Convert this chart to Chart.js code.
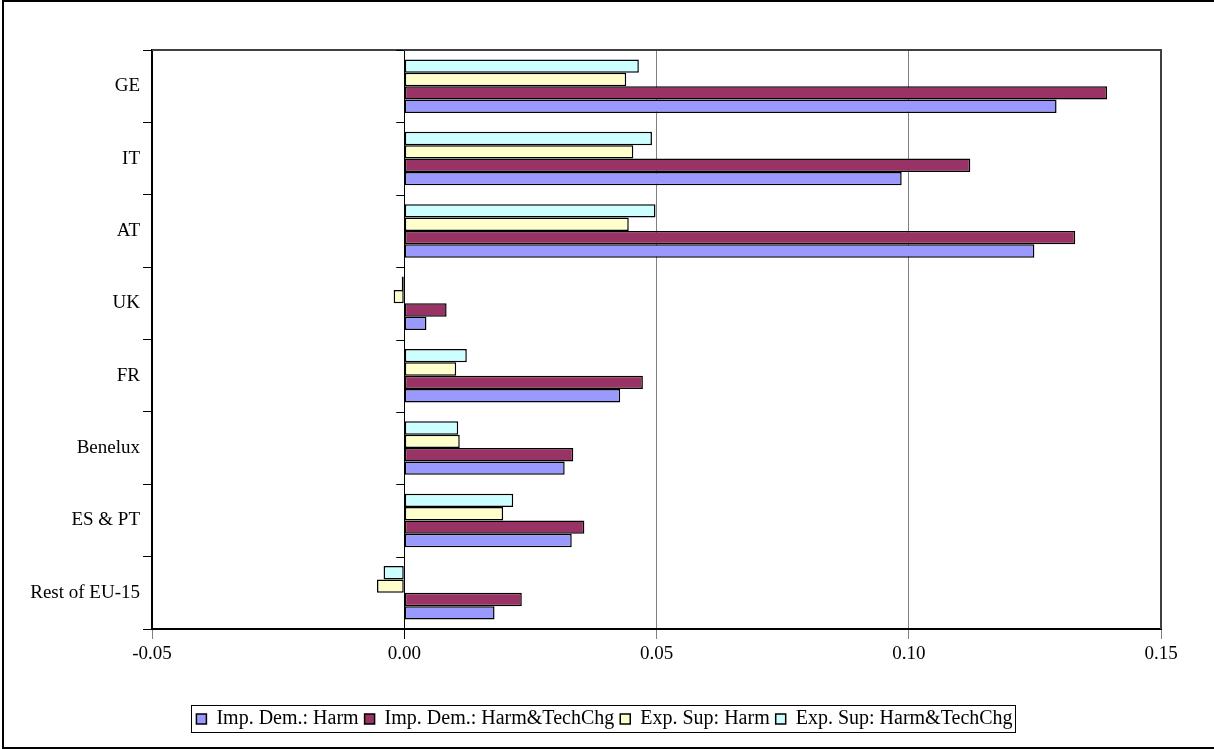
<!DOCTYPE html>
<html>
<head>
<meta charset="utf-8">
<script src="https://cdn.jsdelivr.net/npm/chart.js@4"></script>
<style>
  body { margin: 0; background: #fff; }
  #wrap { position: absolute; left: 0; top: 0; width: 1214px; height: 749px; }
  #frame { position: absolute; left: 2px; top: 0; width: 1230px; height: 749px; border: 2px solid #000; box-sizing: border-box; pointer-events: none; }
</style>
</head>
<body>
<div id="wrap"><canvas id="myChart" width="1214" height="749"></canvas></div>
<div id="frame"></div>
<script>
var regions = ["GE", "IT", "AT", "UK", "FR", "Benelux", "ES & PT", "Rest of EU-15"];

var impHarm = [0.1293, 0.0986, 0.1249, 0.0044, 0.0428, 0.0318, 0.0332, 0.0179];
var impHarmTech = [0.1393, 0.1122, 0.1330, 0.0084, 0.0473, 0.0335, 0.0357, 0.0233];
var expHarm = [0.0440, 0.0454, 0.0445, -0.0021, 0.0103, 0.0110, 0.0196, -0.0054];
var expHarmTech = [0.0465, 0.0491, 0.0498, -0.0005, 0.0124, 0.0107, 0.0216, -0.0041];

var xTicks = [-0.05, 0, 0.05, 0.10, 0.15];

var serif = "'Liberation Serif', 'Times New Roman', serif";
var legendShift = 24;

// frame around plot area, little ticks on the zero line, box round the legend
var extras = {
  id: "extras",
  afterLayout: function (chart) {
    // legend sits a bit right of the plot centre in the original
    var lg = chart.legend;
    lg.left += legendShift;
    lg.right += legendShift;
    (lg.legendHitBoxes || []).forEach(function (h) { h.left += legendShift; });
  },
  afterDraw: function (chart) {
    var c = chart.ctx, a = chart.chartArea;
    var x = chart.scales.x, y = chart.scales.y;
    c.save();
    c.strokeStyle = "#404040";
    c.lineWidth = 2;
    c.beginPath();
    c.moveTo(a.left, a.top);
    c.lineTo(a.right, a.top);
    c.lineTo(a.right, a.bottom);
    c.stroke();

    var x0 = x.getPixelForValue(0);
    var step = (y.bottom - y.top) / regions.length;
    c.strokeStyle = "#000";
    c.lineWidth = 1;
    c.beginPath();
    for (var i = 0; i <= regions.length; i++) {
      var yy = Math.round(y.top + i * step) + 0.5;
      c.moveTo(x0 - 8, yy);
      c.lineTo(x0, yy);
    }
    c.stroke();

    var boxes = chart.legend.legendHitBoxes;
    if (boxes && boxes.length) {
      var l = Infinity, r = -Infinity, t = Infinity, b = -Infinity;
      boxes.forEach(function (h) {
        l = Math.min(l, h.left); r = Math.max(r, h.left + h.width);
        t = Math.min(t, h.top); b = Math.max(b, h.top + h.height);
      });
      c.strokeStyle = "#000";
      c.lineWidth = 1;
      c.strokeRect(Math.round(l) - 4.5, Math.round(t) - 3.5, Math.round(r - l) + 8, Math.round(b - t) + 7);
    }
    c.restore();
  }
};

var ctx = document.getElementById("myChart");

var myChart = new Chart(ctx, {
  type: "bar",
  data: {
    labels: regions,
    datasets: [
      { label: "Exp. Sup: Harm&TechChg", data: expHarmTech, backgroundColor: "#CCFFFF" },
      { label: "Exp. Sup: Harm", data: expHarm, backgroundColor: "#FFFFCC" },
      { label: "Imp. Dem.: Harm&TechChg", data: impHarmTech, backgroundColor: "#993366" },
      { label: "Imp. Dem.: Harm", data: impHarm, backgroundColor: "#9999FF" }
    ]
  },
  options: {
    indexAxis: "y",
    responsive: false,
    animation: false,
    datasets: {
      bar: {
        borderColor: "#000",
        borderWidth: 1.5,
        borderSkipped: false,
        categoryPercentage: 0.74,
        barPercentage: 1
      }
    },
    layout: { padding: { left: 0, right: 53, top: 50, bottom: 10 } },
    scales: {
      x: {
        min: -0.05,
        max: 0.15,
        afterBuildTicks: function (s) {
          s.ticks = xTicks.map(function (v) { return { value: v }; });
        },
        afterFit: function (s) { s.height = 74; },
        ticks: {
          font: { family: serif, size: 19 },
          color: "#000",
          padding: 4,
          maxRotation: 0,
          callback: function (v) { return Number(v).toFixed(2); }
        },
        grid: {
          color: function (g) {
            if (g.tick && Math.abs(g.tick.value) < 1e-9) return "#000";
            return "#808080";
          },
          lineWidth: 1,
          tickLength: 10
        },
        border: { color: "#000", width: 2 }
      },
      y: {
        afterFit: function (s) { s.width = 152; },
        ticks: {
          font: { family: serif, size: 19 },
          color: "#000",
          padding: 3
        },
        grid: {
          drawOnChartArea: false,
          color: "#000",
          tickLength: 9
        },
        border: { color: "#000", width: 2 }
      }
    },
    plugins: {
      legend: {
        position: "bottom",
        reverse: true,
        labels: {
          font: { family: serif, size: 20 },
          color: "#000",
          boxWidth: 10,
          boxHeight: 10,
          padding: 6
        }
      },
      tooltip: { enabled: false }
    }
  },
  plugins: [extras]
});
</script>
</body>
</html>
